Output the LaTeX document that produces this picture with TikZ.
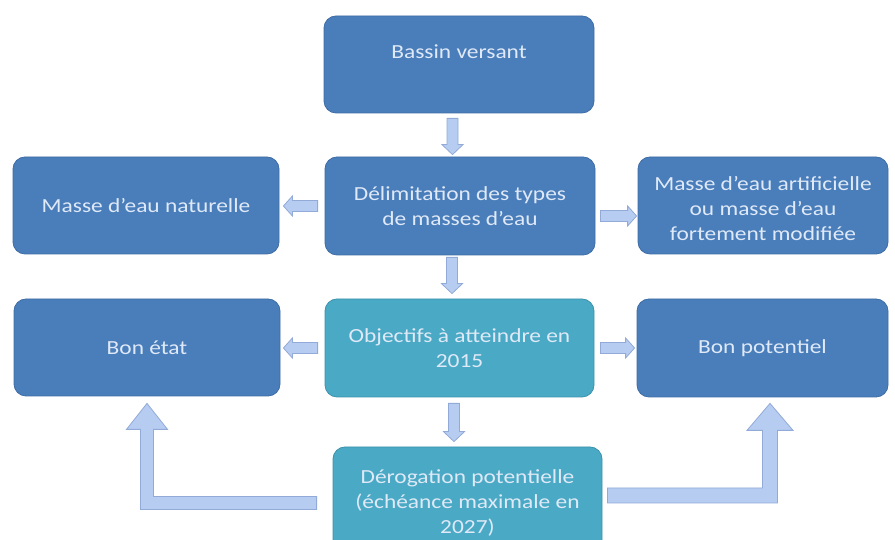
\documentclass[tikz,border=0pt]{standalone}
\usepackage{fontspec}
\setmainfont{Carlito}[FakeStretch=1.17]
\usetikzlibrary{calc}
\definecolor{boxblue}{HTML}{4A7EBB}
\definecolor{boxblueedge}{HTML}{3E6CA6}
\definecolor{boxteal}{HTML}{4AAAC5}
\definecolor{boxtealedge}{HTML}{3B92AB}
\definecolor{boxtext}{HTML}{DFE9F7}
\definecolor{arrfill}{HTML}{B7CCF1}
\definecolor{arredge}{HTML}{92AAD8}
\tikzset{
  card/.style={rounded corners=12pt, draw=boxblueedge, fill=boxblue, line width=0.8pt,
    text=boxtext, align=center, font=\fontsize{20}{25}\selectfont, inner sep=2pt},
  tealcard/.style={card, draw=boxtealedge, fill=boxteal},
  blk/.style={draw=arredge, fill=arrfill, line width=0.8pt, line join=miter},
}
% horizontal block arrow: start, end, direction (+1 right, -1 left)
\newcommand\hblk[3]{%
  \draw[blk] let \p1=(#1), \p2=(#2) in
    (\x1,{\y1+5.5pt}) -- ({\x2-(#3)*9pt},{\y1+5.5pt}) -- ({\x2-(#3)*9pt},{\y1+10pt}) -- (\x2,\y1)
    -- ({\x2-(#3)*9pt},{\y1-10pt}) -- ({\x2-(#3)*9pt},{\y1-5.5pt}) -- (\x1,{\y1-5.5pt}) -- cycle;}
% downward block arrow: start, end
\newcommand\vblk[2]{%
  \draw[blk] let \p1=(#1), \p2=(#2) in
    ({\x1-5.5pt},\y1) -- ({\x1-5.5pt},{\y2+10pt}) -- ({\x1-10.5pt},{\y2+10pt}) -- (\x1,\y2)
    -- ({\x1+10.5pt},{\y2+10pt}) -- ({\x1+5.5pt},{\y2+10pt}) -- ({\x1+5.5pt},\y1) -- cycle;}
% L-shaped block arrow: start, tip, side (+1 corner left of start, -1 right), half shaft, half head, head length
\newcommand\Lblk[6]{%
  \draw[blk] let \p1=(#1), \p2=(#2) in
    (\x1,{\y1+#4}) -- ({\x2+(#3)*#4},{\y1+#4}) -- ({\x2+(#3)*#4},{\y2-#6}) -- ({\x2+(#3)*#5},{\y2-#6})
    -- (\x2,\y2) -- ({\x2-(#3)*#5},{\y2-#6}) -- ({\x2-(#3)*#4},{\y2-#6}) -- ({\x2-(#3)*#4},{\y1-#4})
    -- (\x1,{\y1-#4}) -- cycle;}
\begin{document}
\begin{tikzpicture}[x=1pt,y=1pt]
\clip (0,0) rectangle (895,540);
\fill[white] (0,0) rectangle (895,540);

\node[card, minimum width=270pt, minimum height=97pt] (bassin) at (459,475.5) {Bassin versant\\~};
\node[card, minimum width=270pt, minimum height=98pt] (delim) at (460,334) {Délimitation des types\\de masses d'eau};
\node[card, minimum width=266pt, minimum height=97pt] (nat) at (146,334.5) {Masse d'eau naturelle};
\node[card, minimum width=250pt, minimum height=97pt] (art) at (763,334.5)
  {\raisebox{-5pt}[\height][\depth]{\begin{tabular}{@{}c@{}}Masse d'eau artificielle\\ou masse d'eau\\fortement modifiée\end{tabular}}};
\node[tealcard, minimum width=269pt, minimum height=98pt] (obj) at (459.5,192) {Objectifs à atteindre en\\2015};
\node[card, minimum width=266pt, minimum height=97pt] (bon) at (147,192.5) {Bon état};
\node[card, minimum width=251pt, minimum height=98pt] (pot) at (762.5,192) {Bon potentiel};
\node[tealcard, minimum width=269pt, minimum height=112pt] (derog) at (467.5,37) {Dérogation potentielle\\(échéance maximale en\\2027)};

\vblk{[xshift=-6.5pt,yshift=-5pt]bassin.south}{[yshift=2pt]delim.north}
\vblk{[xshift=-8pt,yshift=-2pt]delim.south}{[yshift=5pt]obj.north}
\vblk{[xshift=-5.5pt,yshift=-6pt]obj.south}{[yshift=5pt]derog.north}

\hblk{[xshift=-7pt]delim.west}{[xshift=4pt]nat.east}{-1}
\hblk{[xshift=5pt,yshift=-10pt]delim.east}{[xshift=-1pt,yshift=-10pt]art.west}{1}
\hblk{[xshift=-7pt]obj.west}{[xshift=3pt]bon.east}{-1}
\hblk{[xshift=6pt]obj.east}{[xshift=-2pt]pot.west}{1}

\Lblk{[xshift=-16pt]derog.west}{[yshift=-7pt]bon.south}{1}{6.5pt}{20.5pt}{26pt}
\Lblk{[xshift=5pt,yshift=7.5pt]derog.east}{[xshift=7.5pt,yshift=-6pt]pot.south}{-1}{7.5pt}{23pt}{27pt}
\end{tikzpicture}
\end{document}
